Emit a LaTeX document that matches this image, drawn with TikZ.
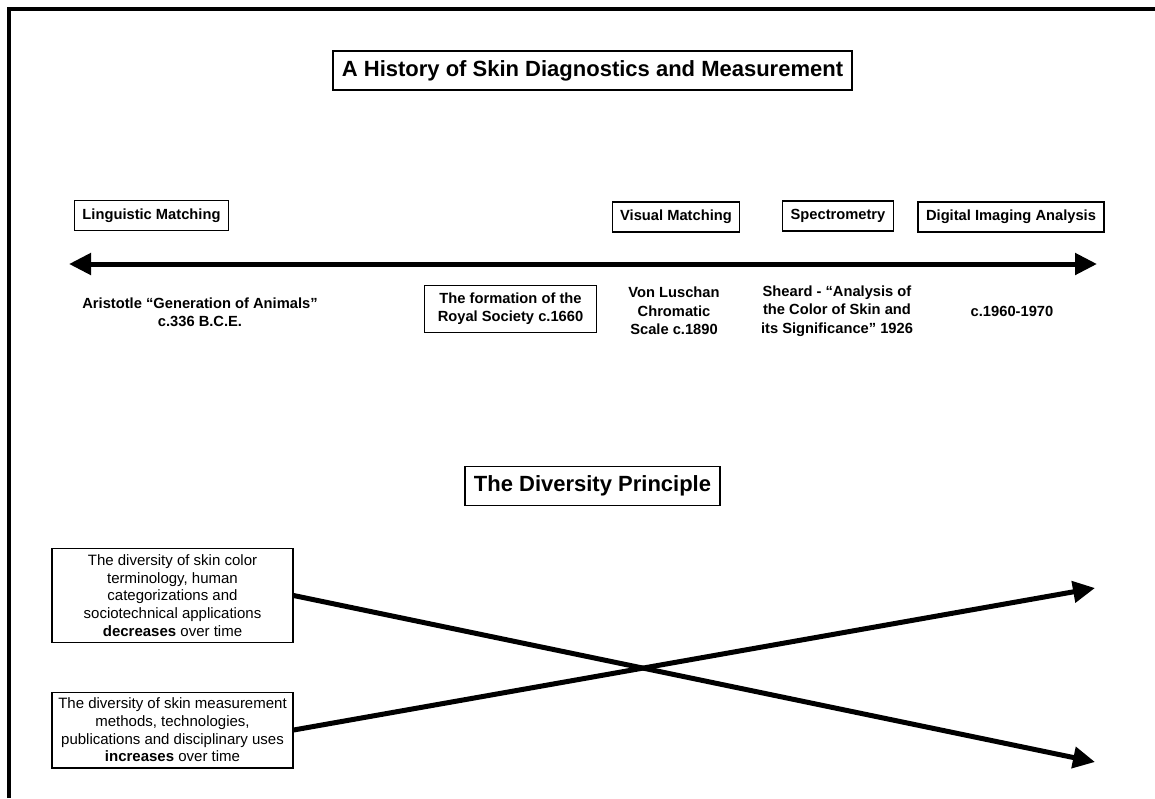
\documentclass[tikz,border=0pt]{standalone}
\usepackage{fontspec}
\setmainfont{Liberation Sans}
\usetikzlibrary{arrows.meta}
\tikzset{
  titlebox/.style={draw, line width=1.3pt, font=\bfseries\fontsize{22}{26}\selectfont, inner xsep=9pt, inner ysep=0pt, minimum height=39pt},
  labelbox/.style={draw, line width=1.2pt, font=\bfseries\fontsize{14.7}{17.6}\selectfont, inner xsep=8pt, inner ysep=0pt, minimum height=30pt},
  datebox/.style={draw, line width=1.2pt, font=\bfseries\fontsize{14.7}{18}\selectfont, align=center, inner xsep=13pt, inner ysep=7.5pt},
  plainlabel/.style={font=\bfseries\fontsize{14.7}{18.5}\selectfont, align=center},
  notebox/.style={draw, line width=1.2pt, font=\fontsize{15}{17.6}\selectfont, align=center, minimum width=241pt, inner ysep=6pt},
  timeline/.style={line width=5pt, {Triangle[length=22pt,width=21pt]}-{Triangle[length=22pt,width=21pt]}},
  bigarrow/.style={line width=5pt, -{Triangle[length=22pt,width=21pt]}},
  frameline/.style={line width=4pt},
}
\begin{document}
\begin{tikzpicture}[x=1pt,y=-1pt]
\useasboundingbox (0,0) rectangle (1155,798);
% frame
\coordinate (fl) at (9,798);
\coordinate (fc) at (9,9);
\coordinate (fr) at (1160,9);
\draw[frameline] (fl) -- (fc) -- (fr);
% title
\node[titlebox] (title) at (592.5,70.5) {A History of Skin Diagnostics and Measurement};
% category boxes
\node[labelbox] (ling) at (151.5,215.5) {Linguistic Matching};
\node[labelbox] (vis) at (676,217) {Visual Matching};
\node[labelbox] (spec) at (838,216) {Spectrometry};
\node[labelbox] (dig) at (1011,217) {Digital Imaging Analysis};
% timeline
\coordinate (tl) at (69,264);
\coordinate (tr) at (1097,264);
\draw[timeline] (tl) -- (tr);
% events
\node[plainlabel] (arist) at (200,312) {Aristotle “Generation of Animals”\\c.336 B.C.E.};
\node[datebox] (royal) at (510.5,309) {The formation of the\\Royal Society c.1660};
\node[plainlabel] (vonl) at (674,311) {Von Luschan\\Chromatic\\Scale c.1890};
\node[plainlabel] (sheard) at (837,311) {Sheard - “Analysis of\\the Color of Skin and\\its Significance” 1926};
\node[plainlabel] (digdate) at (1012,311) {c.1960-1970};
% diversity principle
\node[titlebox] (div) at (592.5,486) {The Diversity Principle};
\node[notebox] (dec) at (172.5,595.5) {The diversity of skin color\\terminology, human\\categorizations and\\sociotechnical applications\\\textbf{decreases} over time};
\node[notebox] (inc) at (172.5,730) {The diversity of skin measurement\\methods, technologies,\\publications and disciplinary uses\\\textbf{increases} over time};
\coordinate (decend) at (1095,762);
\coordinate (incend) at (1095,588);
\draw[bigarrow] (dec.east) -- (decend);
\draw[bigarrow] (inc.east) -- (incend);
\end{tikzpicture}
\end{document}
